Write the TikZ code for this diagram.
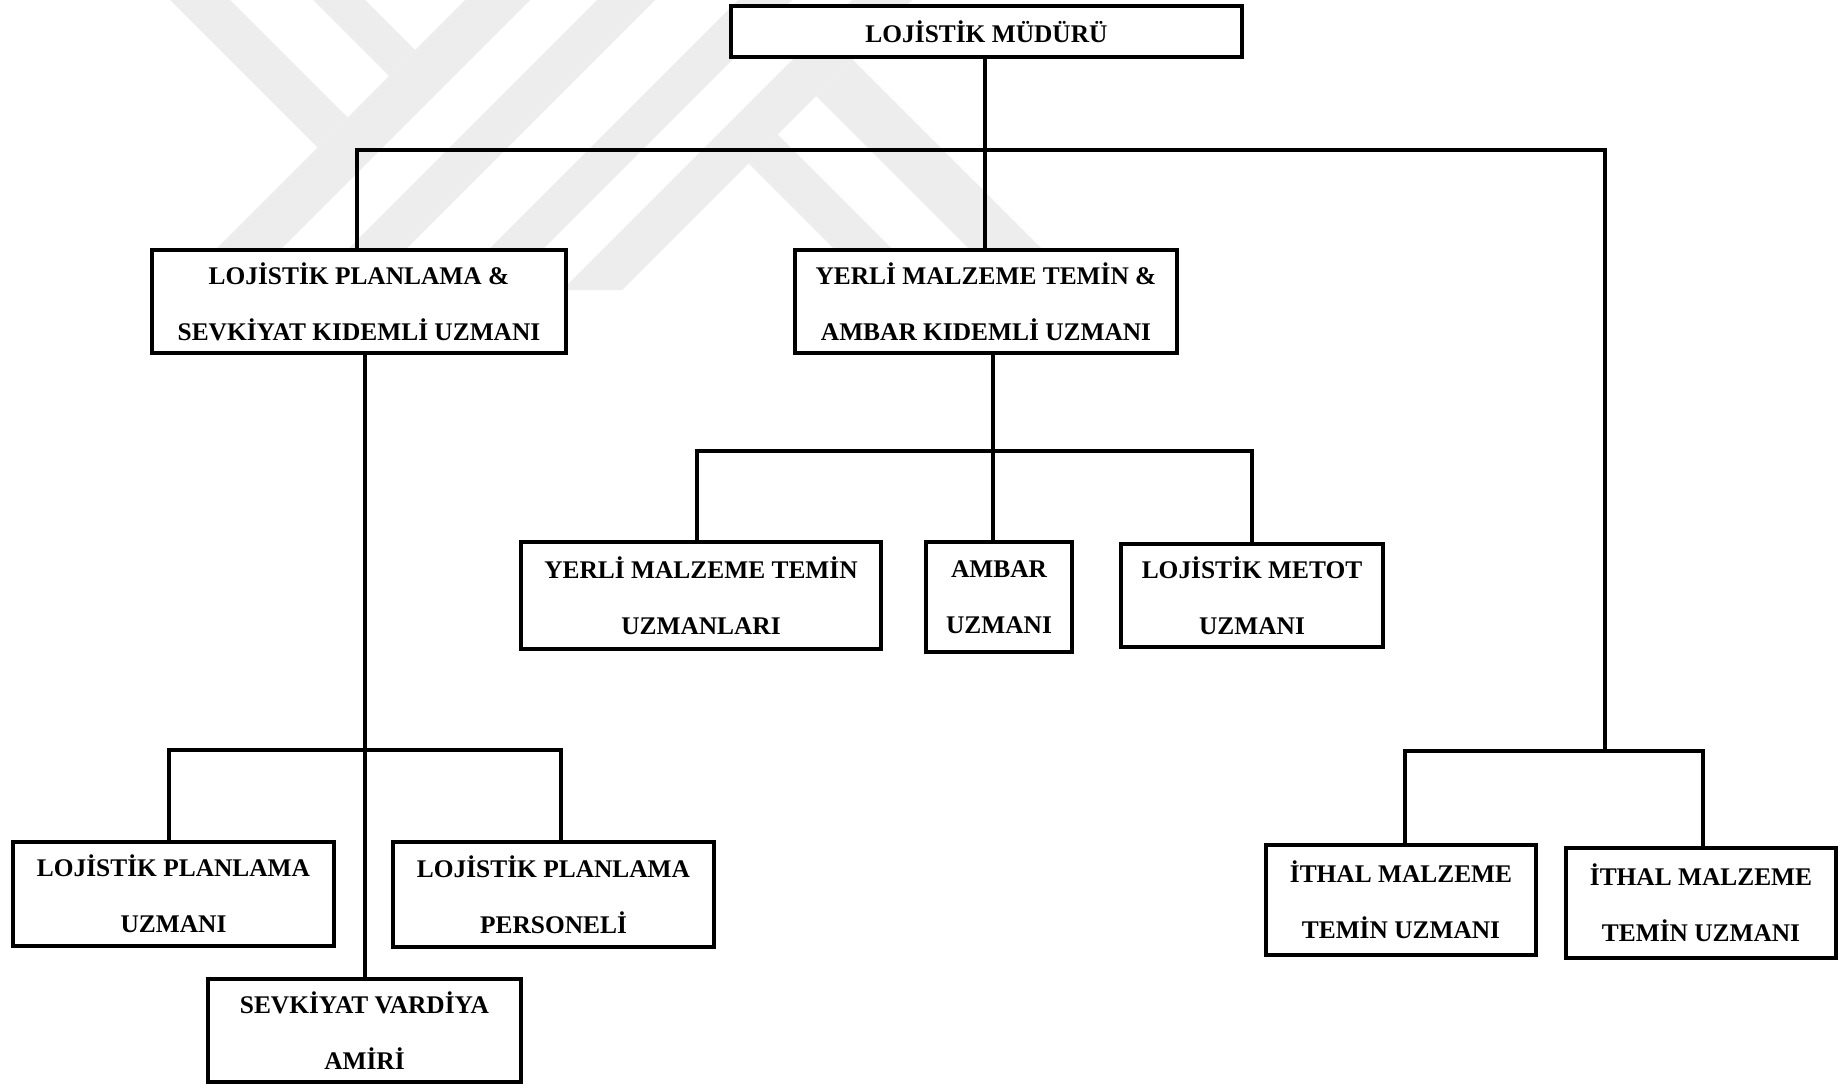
\documentclass[tikz,border=0pt]{standalone}
\usepackage{fontspec}
\setmainfont{Liberation Serif}
\definecolor{wmgray}{RGB}{237,237,237}
\begin{document}
\begin{tikzpicture}[x=1pt,y=-1pt,
  box/.style={draw=black, line width=4pt, fill=white, inner sep=0pt, align=center,
    font=\fontsize{25.4pt}{56pt}\selectfont\bfseries},
  conn/.style={draw=black, line width=4pt},
  wm/.style={fill=wmgray}]
\useasboundingbox (0,0) rectangle (1843,1087);
\fill[white] (0,0) rectangle (1843,1087);

% faint background emblem: slanted stripes
\begin{scope}
  \clip (0,0) rectangle (1843,290);
  % short strokes falling to the right, joined to the first rising stripe
  \fill[wm] (170,0) -- (230,0) -- (347.5,117.5) -- (317.5,147.5) -- cycle;
  \fill[wm] (313,0) -- (365,0) -- (415,50) -- (389,76) -- cycle;
  % rising stripes
  \fill[wm] (465,0) -- (530,0) -- (240,290) -- (175,290) -- cycle;
  \fill[wm] (597,0) -- (655,0) -- (365,290) -- (307,290) -- cycle;
  \fill[wm] (738,0) -- (792,0) -- (502,290) -- (448,290) -- cycle;
  \fill[wm] (852,0) -- (912,0) -- (622,290) -- (562,290) -- cycle;
  % short strokes falling to the right from the last rising stripe
  \fill[wm] (777.5,134.5) -- (933,290) -- (875,290) -- (748.5,163.5) -- cycle;
  \fill[wm] (852.5,59.5) -- (1083,290) -- (1010,290) -- (816,96) -- cycle;
\end{scope}

% junction points of the connector trees
\coordinate (barR) at (1605,150);
\coordinate (ithJ) at (1605,751);
\coordinate (lpJ) at (365,750);
\coordinate (ymJ) at (993,451);

% boxes
\node[box, minimum width=511pt, minimum height=51pt] (mgr) at (986.5,31.5) {LOJİSTİK MÜDÜRÜ};
\node[box, minimum width=414pt, minimum height=103pt] (lp) at (359,301.5) {LOJİSTİK PLANLAMA \&\\SEVKİYAT KIDEMLİ UZMANI};
\node[box, minimum width=382pt, minimum height=103pt] (ym) at (986,301.5) {YERLİ MALZEME TEMİN \&\\AMBAR KIDEMLİ UZMANI};
\node[box, minimum width=360pt, minimum height=107pt] (ymu) at (701,595.5) {YERLİ MALZEME TEMİN\\UZMANLARI};
\node[box, minimum width=146pt, minimum height=110pt] (amb) at (999,597) {AMBAR\\UZMANI};
\node[box, minimum width=262pt, minimum height=103pt] (met) at (1252,595.5) {LOJİSTİK METOT\\UZMANI};
\node[box, minimum width=321pt, minimum height=104pt] (lpu) at (173.5,894) {LOJİSTİK PLANLAMA\\UZMANI};
\node[box, minimum width=321pt, minimum height=105pt] (lpp) at (553.5,894.5) {LOJİSTİK PLANLAMA\\PERSONELİ};
\node[box, minimum width=313pt, minimum height=103pt] (sva) at (364.5,1030.5) {SEVKİYAT VARDİYA\\AMİRİ};
\node[box, minimum width=270pt, minimum height=110pt] (ith1) at (1401,900) {İTHAL MALZEME\\TEMİN UZMANI};
\node[box, minimum width=270pt, minimum height=110pt] (ith2) at (1701,903) {İTHAL MALZEME\\TEMİN UZMANI};

% connectors
\draw[conn] ([xshift=-1.5pt]mgr.south) -- ([xshift=-1.5pt]mgr.south |- ym.north);
\draw[conn] ([xshift=-2pt]lp.north) |- (barR) -- (ithJ);
\draw[conn] ([xshift=4pt]ith1.north) |- (ithJ) -| ([xshift=2pt]ith2.north);

\draw[conn] (lp.south -| lpJ) -- (lpJ |- sva.north);
\draw[conn] ([xshift=-4.5pt]lpu.north) |- (lpJ) -| ([xshift=7.5pt]lpp.north);

\draw[conn] (ym.south -| ymJ) -- (ymJ |- amb.north);
\draw[conn] ([xshift=-4pt]ymu.north) |- (ymJ) -| (met.north);
\end{tikzpicture}
\end{document}
